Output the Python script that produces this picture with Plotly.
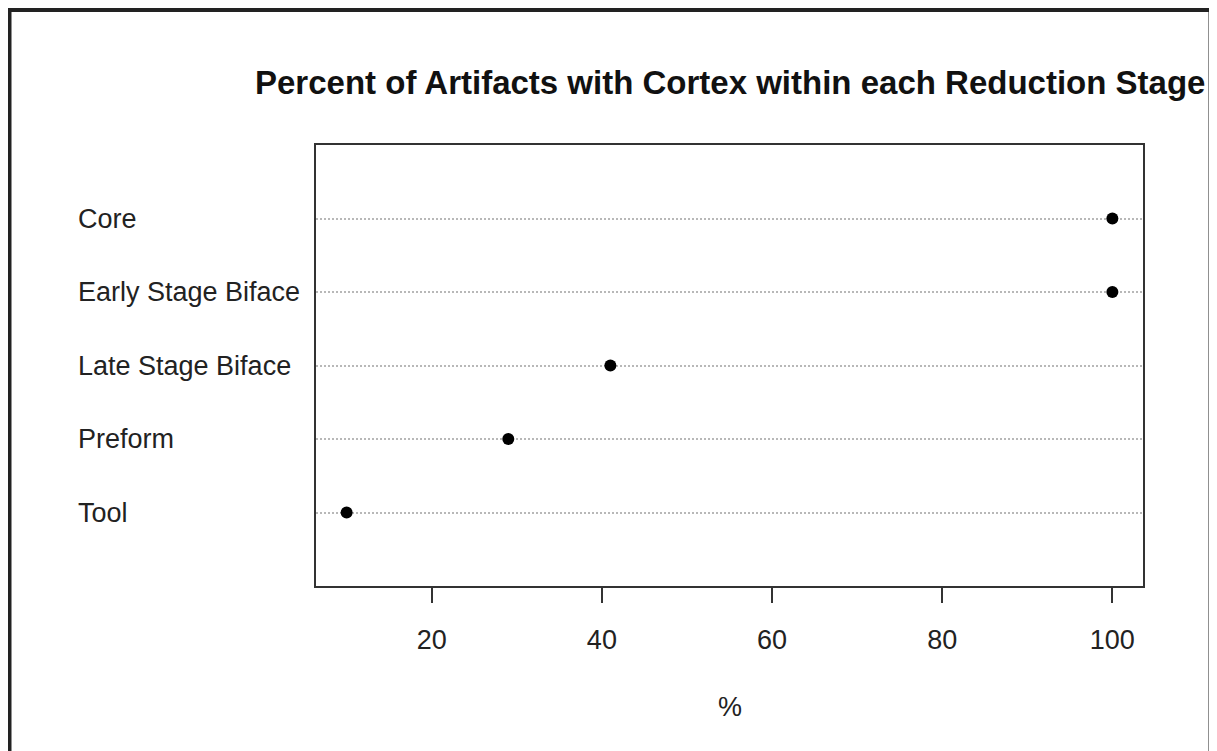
import plotly.graph_objects as go

categories = ["Core", "Early Stage Biface", "Late Stage Biface", "Preform", "Tool"]
percent = [100, 100, 41, 29, 10]
x_ticks = [20, 40, 60, 80, 100]
title_text = "Percent of Artifacts with Cortex within each Reduction Stage"
x_label = "%"

n = len(categories)
ypos = [n - i for i in range(n)]  # Core at top

OFF = 8  # page body margin
W, H = 1217 - OFF, 751 - OFF
L, R, T, B = 316 - OFF, 1143 - OFF, 145 - OFF, 586 - OFF
pw, ph = R - L, B - T

def px(x):
    return (x - OFF - L) / pw

def py(y):
    return (B - (y - OFF)) / ph

FONT = "Liberation Sans, Arial, sans-serif"

fig = go.Figure()
fig.add_trace(go.Scatter(
    x=percent, y=ypos, mode="markers",
    marker=dict(color="black", size=12, symbol="circle"),
    hoverinfo="x+text", text=categories, showlegend=False,
))

annotations = []
for c, y in zip(categories, ypos):
    annotations.append(dict(
        x=px(76), xref="paper", y=y, yref="y", text=c, showarrow=False,
        xanchor="left", yanchor="middle",
        font=dict(family=FONT, size=27, color="#222"),
    ))
annotations.append(dict(
    x=0.5, xref="paper", y=py(82), yref="paper", text="<b>" + title_text + "</b>",
    showarrow=False, xanchor="center", yanchor="middle",
    font=dict(family=FONT, size=33, color="#111"),
))
annotations.append(dict(
    x=0.5, xref="paper", y=py(707), yref="paper", text=x_label,
    showarrow=False, xanchor="center", yanchor="middle",
    font=dict(family=FONT, size=27, color="#222"),
))

fig.update_layout(
    width=W, height=H,
    margin=dict(l=L, r=W - R, t=T, b=H - B, pad=0),
    paper_bgcolor="white", plot_bgcolor="white",
    annotations=annotations,
    shapes=[dict(
        type="rect", xref="paper", yref="paper",
        x0=px(9.5), x1=px(1210.5), y0=py(770), y1=py(10),
        line=dict(color="#222", width=4), fillcolor="rgba(0,0,0,0)", layer="above",
    )],
    xaxis=dict(
        range=[6.4, 103.6], tickvals=x_ticks, ticks="outside", ticklen=15,
        tickwidth=2, tickcolor="#333", showgrid=False, zeroline=False,
        showline=True, linecolor="#333", linewidth=2, mirror=True,
        tickfont=dict(family=FONT, size=27, color="#222"),
        ticklabelstandoff=14,
    ),
    yaxis=dict(
        range=[0, n + 1], tickvals=ypos, showticklabels=False, ticks="",
        showgrid=True, gridcolor="#b8b8b8", griddash="2px,2px", gridwidth=1.5,
        zeroline=False, showline=True, linecolor="#333", linewidth=2, mirror=True,
    ),
)

fig.write_html("out.html")
